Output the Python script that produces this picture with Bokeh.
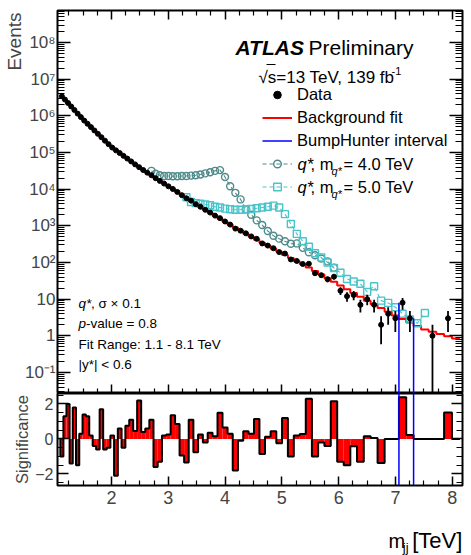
import numpy as np
from bokeh.plotting import figure
from bokeh.layouts import column
from bokeh.models import (Range1d, FixedTicker, LinearAxis, LogAxis, Label, Legend, Title,
                          LegendItem, Span, BoxAnnotation, CustomJSTickFormatter)
from bokeh.embed import file_html
from bokeh.resources import INLINE

# ---------------- data ----------------
bin_edges = [1.100, 1.154, 1.208, 1.263, 1.319, 1.376, 1.433, 1.491, 1.550, 1.609,
             1.669, 1.730, 1.792, 1.854, 1.917, 1.981, 2.046, 2.112, 2.178, 2.245,
             2.313, 2.382, 2.452, 2.523, 2.595, 2.667, 2.740, 2.814, 2.889, 2.965,
             3.042, 3.120, 3.199, 3.279, 3.360, 3.442, 3.525, 3.609, 3.694, 3.780,
             3.867, 3.955, 4.044, 4.135, 4.227, 4.320, 4.414, 4.509, 4.605, 4.703,
             4.802, 4.902, 5.003, 5.106, 5.210, 5.315, 5.421, 5.529, 5.638, 5.749,
             5.861, 5.974, 6.089, 6.205, 6.323, 6.442, 6.563, 6.685, 6.809, 6.934,
             7.061, 7.189, 7.319, 7.451, 7.584, 7.719, 7.856, 7.994, 8.134]

bkg_fit = [3420000, 2770000, 2240000, 1800000, 1440000, 1150000, 922000, 739000, 604000, 492000,
           399000, 323000, 260000, 210000, 169000, 136000, 115000, 96600, 81100, 68000,
           56800, 47300, 39300, 33200, 28100, 23800, 20100, 16900, 14200, 11900,
           9980, 8320, 6930, 5760, 4780, 3950, 3290, 2740, 2280, 1890,
           1560, 1290, 1070, 893, 740, 612, 506, 419, 347, 287,
           237, 195, 160, 132, 108, 88.8, 72.6, 58.4, 46.8, 37.3,
           29.7, 23.6, 18.7, 14.7, 11.6, 9.08, 7.21, 5.71, 4.52, 3.56,
           2.87, 2.30, 1.84, 1.49, 1.29, 1.12, 0.97, 0.85]

data_counts = [3418150, 2772163, 2242994, 1798121, 1442160, 1148392, 922288, 740204, 605010, 492140,
               398747, 322659, 260867, 209725, 168794, 136074, 114288, 96787, 80958, 68198,
               57062, 47398, 39736, 33273, 28201, 23970, 19873, 16731, 14224, 11927,
               10115, 8398, 6851, 5658, 4856, 3902, 3304, 2730, 2297, 1897,
               1619, 1313, 1080, 839, 737, 623, 513, 442, 331, 289,
               244, 192, 175, 121, 110, 91, 92, 51, 45, 35,
               41, 17, 12, 13, 7, 10, 7, 2, 4, 3,
               8, 3, 0, 0, 1, 0, 3, 0]

significance = [-1.0, 1.3, 2.0, -1.4, 1.8, -1.5, 0.3, 1.4, 1.3, 0.2,
                -0.4, -0.6, 1.7, -0.6, -0.5, 0.2, -2.1, 0.6, -0.5, 0.76,
                1.1, 0.45, 2.2, 0.4, 0.6, 1.1, -1.6, -1.3, 0.2, 0.25,
                1.35, 0.85, -0.95, -1.35, 1.1, -0.76, 0.25, -0.2, 0.35, 0.15,
                1.5, 0.65, 0.3, -1.8, -0.1, 0.44, 0.3, 1.14, -0.86, 0.13,
                0.44, -0.25, 1.2, -1.0, 0.2, 0.28, 2.3, -1.0, -0.2, -0.4,
                2.15, -1.3, -1.5, -0.42, -1.3, 0.15, 0.05, -1.37, 0.0, 0.0,
                2.38, 0.23, 0.0, 0.0, 0.0, 0.0, 1.52, 0.0]

# background + q* signal (sigma x 0.1), m_q* = 4.0 TeV, starting at bin 25
qstar4_first_bin = 25
qstar4_total = [31600, 26300, 24000, 22900, 22900, 22400, 22400, 22900, 22900, 23400,
                24000, 25100, 26900, 28800, 31600, 33100, 21400, 12000, 7940, 5250,
                2820, 2000, 1410, 1050, 724, 537, 447, 380, 324, 331,
                251, 191, 158, 129, 107, 72]

# background + q* signal (sigma x 0.1), m_q* = 5.0 TeV, starting at bin 33
qstar5_first_bin = 33
qstar5_total = [6030, 4470, 4170, 3980, 3800, 3630, 3310, 3160, 2950, 2820,
                2750, 2750, 2820, 2880, 3020, 3160, 3310, 3550, 3160, 2090,
                1120, 603, 380, 269, 178, 138, 100, 70.8, 52.5, 35.5,
                30.2, 26.3, 15.8, 22.4, 9.1, 7.9, 6.0, 4.0, 2.8, 2.2,
                4.2]

# BumpHunter interval: bins 70..71
bump_first_bin = 70
bump_last_bin = 71

x_ticks = [2, 3, 4, 5, 6, 7, 8]
y_ticks = [0.1, 1, 10, 100, 1000, 10000, 100000, 1000000, 10000000, 100000000]
y_tick_labels = ["10⁻¹", "1", "10", "10²", "10³", "10⁴", "10⁵", "10⁶", "10⁷", "10⁸"]
sig_ticks = [-2, 0, 2]

# ---------------- layout constants ----------------
W, H = 471, 555
FL, FR = 57, 462
T1, B1 = 10, 393
B2 = 485
P2H = 122            # significance figure height (393..515)
XMIN, XMAX = 1.05, 8.18
YMIN, YMAX = 0.0267, 7.46e8
SMIN, SMAX = -2.66, 2.6

REG = "Liberation Sans, Arial, sans-serif"
C4 = "#4f8a8a"
C5 = "#48c4ca"

edges = np.array(bin_edges)
lo_e, hi_e = edges[:-1], edges[1:]
centers = 0.5 * (lo_e + hi_e)
bkg = np.array(bkg_fit, float)
obs = np.array(data_counts, float)
sig = np.array(significance, float)
q4 = np.array(qstar4_total, float)
c4 = centers[qstar4_first_bin:qstar4_first_bin + len(q4)]
q5 = np.array(qstar5_total, float)
c5 = centers[qstar5_first_bin:qstar5_first_bin + len(q5)]
bump_lo = edges[bump_first_bin]
bump_hi = edges[bump_last_bin + 1]

LYMIN, LYMAX = np.log10(YMIN), np.log10(YMAX)


def X(px):
    return XMIN + (px - FL) * (XMAX - XMIN) / (FR - FL)


def Y1(py):
    return 10 ** (LYMIN + (B1 - py) * (LYMAX - LYMIN) / (B1 - T1))


def tick_style(ax, maj, mino):
    ax.major_tick_in = int(maj)
    ax.major_tick_out = 0
    ax.minor_tick_in = int(mino)
    ax.minor_tick_out = 0
    ax.major_tick_line_width = 1.5
    ax.minor_tick_line_width = 1.2
    ax.major_tick_line_color = "black"
    ax.minor_tick_line_color = "black"
    ax.axis_line_color = None


def blank(ax):
    ax.formatter = CustomJSTickFormatter(code="return ''")
    ax.major_label_text_font_size = "0px"
    ax.major_label_standoff = 0


def lab(p, x, y, text, size, style="normal", align="left", baseline="alphabetic"):
    p.add_layout(Label(x=x, y=y, text=text, text_font=REG, text_font_size=size,
                       text_font_style=style, text_align=align, text_baseline=baseline,
                       text_color="black"))


def lab1(px, py, text, size, **kw):
    lab(p1, X(px), Y1(py), text, size, **kw)


xt = FixedTicker(ticks=x_ticks, minor_ticks=[v / 4 for v in range(5, 33) if v % 4])
yminor = [k * 10.0 ** n for n in range(-2, 9) for k in range(2, 10)]
yt = FixedTicker(ticks=y_ticks, minor_ticks=yminor)
yfmt = CustomJSTickFormatter(args=dict(vals=y_ticks, labs=y_tick_labels), code="""
for (let i = 0; i < vals.length; i++) {
  if (Math.abs(Math.log10(vals[i]) - Math.log10(tick)) < 1e-6) { return labs[i]; }
}
return '';
""")

# ---------------- main panel ----------------
p1 = figure(width=W, height=B1, x_range=Range1d(XMIN, XMAX), y_range=Range1d(YMIN, YMAX),
            y_axis_type="log", x_axis_location=None, y_axis_location=None,
            output_backend="svg", toolbar_location=None, title=None,
            min_border_left=FL, min_border_right=W - FR, min_border_top=T1, min_border_bottom=0)
p1.outline_line_color = "black"
p1.outline_line_width = 2
p1.background_fill_color = "white"
p1.border_fill_color = "white"
p1.xgrid.visible = False
p1.ygrid.visible = False

ax = LogAxis(ticker=yt, formatter=yfmt)
tick_style(ax, 13, 7)
ax.major_label_text_font = REG
ax.major_label_text_font_size = "17px"
ax.major_label_standoff = 2
p1.add_layout(ax, "left")
p1.add_layout(Title(text="Events", align="right", text_font=REG, text_font_size="19px",
                    text_font_style="normal", standoff=-6, offset=2), "left")
for loc, tk, a, b in (("right", yt, 13, 7), ("above", xt, 9, 5), ("below", xt, 9, 5)):
    ax = (LogAxis if loc == "right" else LinearAxis)(ticker=tk)
    tick_style(ax, a, b)
    blank(ax)
    p1.add_layout(ax, loc)

r_bkg = p1.step(x=edges, y=np.append(bkg, bkg[-1]), mode="after", line_color="red", line_width=2)
r_l4 = p1.line(c4, q4, line_color=C4, line_width=1.1, line_dash="4 3")
r_m4 = p1.scatter(c4, q4, marker="circle", size=7, line_color=C4, fill_color=None, line_width=1.4)
r_l5 = p1.line(c5, q5, line_color=C5, line_width=1.1, line_dash="4 3")
r_m5 = p1.scatter(c5, q5, marker="square", size=7, line_color=C5, fill_color=None, line_width=1.4)

m = obs > 0
err_lo = obs[m] - np.sqrt(obs[m])
err_lo = np.where(err_lo > 0, err_lo, YMIN / 10)
p1.segment(x0=centers[m], y0=err_lo, x1=centers[m], y1=obs[m] + np.sqrt(obs[m]),
           line_color="black", line_width=1.8)
r_data = p1.scatter(centers[m], obs[m], marker="circle", size=5, color="black")

r_bump = p1.segment(x0=[bump_lo, bump_hi], y0=[YMIN / 10, YMIN / 10], x1=[bump_lo, bump_hi],
                    y1=[obs[bump_first_bin], obs[bump_last_bin]], line_color="blue", line_width=1.5)

leg = Legend(items=[LegendItem(label="Data", renderers=[r_data]),
                    LegendItem(label="Background fit", renderers=[r_bkg]),
                    LegendItem(label="BumpHunter interval", renderers=[r_bump]),
                    LegendItem(label=" ", renderers=[r_l4, r_m4]),
                    LegendItem(label=" ", renderers=[r_l5, r_m5])],
             location=(205, 197.5), orientation="vertical",
             glyph_width=30, glyph_height=19, label_height=19, spacing=4,
             padding=0, margin=0, label_standoff=5,
             border_line_color=None, background_fill_alpha=0,
             label_text_font=REG, label_text_font_size="16.5px", label_text_color="black")
p1.add_layout(leg)

# title block
lab1(235, 46.7, "ATLAS", "21px", style="bold italic")
lab1(308, 46.7, "Preliminary", "21px")
lab1(258, 77, "√s=13 TeV, 139 fb", "17px")
lab1(391, 70, "-1", "11px")
p1.add_layout(BoxAnnotation(left=X(266), right=X(275), bottom=Y1(64.6), top=Y1(63.4),
                            fill_color="black", fill_alpha=1, line_color=None))

# rich legend labels for the signal entries
for yc, txt in ((163, "= 4.0 TeV"), (186, "= 5.0 TeV")):
    lab1(297, yc, "q*", "16.5px", style="italic", baseline="middle")
    lab1(310, yc, ", m", "16.5px", baseline="middle")
    lab1(331, yc + 7, "q*", "11px", style="italic", baseline="middle")
    lab1(343, yc, txt, "16.5px", baseline="middle")

# bottom-left text block
lab1(78, 302.5, "q*", "13.5px", style="italic")
lab1(90.5, 302.5, ",  σ × 0.1", "13.5px")
lab1(78, 322.5, "p", "13.5px", style="italic")
lab1(85.5, 322.5, "-value = 0.8", "13.5px")
lab1(78, 343.5, "Fit Range: 1.1 - 8.1 TeV", "13.5px")
lab1(78, 364, "|y*| < 0.6", "13.5px")

# ---------------- significance panel ----------------
p2 = figure(width=W, height=P2H, x_range=p1.x_range, y_range=Range1d(SMIN, SMAX),
            x_axis_location=None, y_axis_location=None,
            output_backend="svg", toolbar_location=None, title=None,
            min_border_left=FL, min_border_right=W - FR, min_border_top=0,
            min_border_bottom=B1 + P2H - B2)
p2.outline_line_color = "black"
p2.outline_line_width = 2
p2.background_fill_color = "white"
p2.border_fill_color = "white"
p2.xgrid.visible = False
p2.ygrid.visible = False

st = FixedTicker(ticks=sig_ticks, minor_ticks=[-2.5, -1.5, -1, -0.5, 0.5, 1, 1.5, 2.5])
ax = LinearAxis(ticker=xt)
tick_style(ax, 9, 5)
ax.major_label_text_font = REG
ax.major_label_text_font_size = "18px"
ax.major_label_standoff = 5
p2.add_layout(ax, "below")
ax = LinearAxis(ticker=st)
tick_style(ax, 11, 6)
ax.major_label_text_font = REG
ax.major_label_text_font_size = "16px"
ax.major_label_standoff = 4
p2.add_layout(ax, "left")
p2.add_layout(Title(text="Significance", align="center", text_font=REG, text_font_size="16.5px",
                    text_font_style="normal", standoff=3), "left")
ax = LinearAxis(ticker=st)
tick_style(ax, 11, 6)
blank(ax)
p2.add_layout(ax, "right")

p2.quad(left=lo_e, right=hi_e, bottom=np.minimum(sig, 0), top=np.maximum(sig, 0),
        fill_color="red", line_color=None)
p2.step(x=np.concatenate([[edges[0]], edges]), y=np.concatenate([[0.0], sig, [0.0]]),
        mode="after", line_color="black", line_width=2)
p2.add_layout(Span(location=bump_lo, dimension="height", line_color="blue", line_width=1.5))
p2.add_layout(Span(location=bump_hi, dimension="height", line_color="blue", line_width=1.5))

# ---------------- x-axis title strip (coordinates = page pixels) ----------------
P3T = B1 + P2H
p3 = figure(width=W, height=H - P3T, x_range=Range1d(0, W), y_range=Range1d(H, P3T),
            x_axis_location=None, y_axis_location=None,
            output_backend="svg", toolbar_location=None, title=None,
            min_border_left=0, min_border_right=0, min_border_top=0, min_border_bottom=0)
p3.outline_line_color = None
p3.xgrid.visible = False
p3.ygrid.visible = False
lab(p3, 385, 540, "m", "20px")
lab(p3, 401.5, 547, "jj", "13px")
lab(p3, 412.5, 540, "[TeV]", "22px")

layout = column(p1, p2, p3, spacing=0)
open("out.html", "w").write(file_html(layout, INLINE, "dijet"))
